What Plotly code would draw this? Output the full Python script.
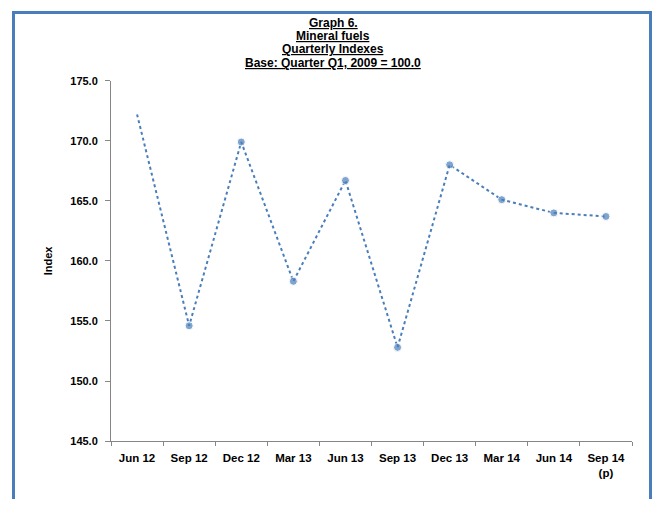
import plotly.graph_objects as go

categories = ["Jun 12", "Sep 12", "Dec 12", "Mar 13", "Jun 13", "Sep 13",
              "Dec 13", "Mar 14", "Jun 14", "Sep 14<br>(p)"]
index_values = [172.2, 154.6, 169.9, 158.3, 166.7, 152.8, 168.0, 165.1, 164.0, 163.7]
marker_sizes = [0, 8, 8, 8, 8, 8, 8, 8, 8, 8]

title_lines = ["Graph 6.", "Mineral fuels", "Quarterly Indexes", "Base: Quarter Q1, 2009 = 100.0"]
y_ticks = [145, 150, 155, 160, 165, 170, 175]
y_tick_labels = ["145.0", "150.0", "155.0", "160.0", "165.0", "170.0", "175.0"]

# The page body adds an 8px offset; positions below are page pixels converted to figure space.
OFF = 8
W, H = 652, 497
# plot area = the blue frame box; the frame is drawn with the lines of a second axis pair
L, R, T, B = 7, 11, 3, 0
gw, gh = W - L - R, H - T - B

def px(x_page):
    return (x_page - OFF - L) / gw

def py(y_page):
    return (T + gh - (y_page - OFF)) / gh

# data area in page pixels: x 111..632, y 79..446
x_dom = [px(111), px(632)]
y_dom = [py(446), py(79)]

blue = "#4A7EBB"
font_family = "Liberation Sans, Arial, sans-serif"

fig = go.Figure()
fig.add_trace(go.Scatter(
    x=categories, y=index_values, mode="lines+markers",
    line=dict(color=blue, width=2, dash="dot"),
    marker=dict(color=blue, size=marker_sizes),
    showlegend=False, hoverinfo="skip", xaxis="x", yaxis="y",
))
# empty trace that only ties the frame axes together
fig.add_trace(go.Scatter(x=[], y=[], xaxis="x2", yaxis="y2", showlegend=False, hoverinfo="skip"))

fig.update_layout(
    width=W, height=H,
    margin=dict(l=L, r=R, t=T, b=B),
    paper_bgcolor="white", plot_bgcolor="rgba(0,0,0,0)",
    font=dict(family=font_family, color="black", size=11),
    xaxis=dict(
        domain=x_dom, anchor="y",
        type="category", showgrid=False, showline=True, linecolor="#868686", linewidth=1,
        ticks="outside", tickson="boundaries", ticklen=4, tickcolor="#868686",
        ticklabelstandoff=6,
        tickfont=dict(family=font_family, size=11.5, color="black", weight="bold"),
        range=[-0.5, 9.5], zeroline=False,
    ),
    yaxis=dict(
        domain=y_dom, anchor="x",
        range=[145, 175], tickvals=y_ticks, ticktext=y_tick_labels,
        showgrid=False, showline=True, linecolor="#868686", linewidth=1,
        ticks="outside", ticklen=5, tickcolor="#868686", zeroline=False,
        ticklabelstandoff=5,
        tickfont=dict(family=font_family, size=11, color="black", weight="bold"),
        title=dict(text="Index", font=dict(family=font_family, size=11, weight="bold"), standoff=15),
    ),
    xaxis2=dict(domain=[0, 1], anchor="y2", side="top", showline=True, linecolor=blue, linewidth=3,
                mirror=False, showgrid=False, zeroline=False, showticklabels=False, ticks="",
                range=[0, 1]),
    yaxis2=dict(domain=[0, 1], anchor="x2", side="left", showline=True, linecolor=blue, linewidth=3,
                mirror=True, showgrid=False, zeroline=False, showticklabels=False, ticks="",
                range=[0, 1]),
)

title_y = [20, 33.5, 47, 61]
for line, yc in zip(title_lines, title_y):
    fig.add_annotation(
        text=line, xref="paper", yref="paper",
        x=px(333), y=py(yc), xanchor="center", yanchor="middle", showarrow=False,
        font=dict(family=font_family, size=12, color="black", weight="bold", lineposition="under"),
    )

fig.write_html("out.html")
